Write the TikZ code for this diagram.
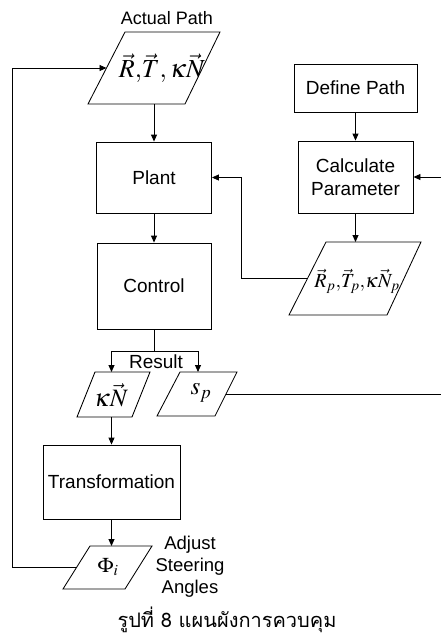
\documentclass[tikz,border=0pt]{standalone}
\usepackage{mathptmx}
\usepackage{fontspec}
\setmainfont{Liberation Sans}
\newfontfamily\thaifont[Script=Thai]{Loma}
\usetikzlibrary{arrows.meta}
\newcommand\lblfont{\fontsize{19}{23}\selectfont}
\begin{document}
\begin{tikzpicture}[x=1pt,y=-1pt,line width=0.85pt,
  >={Triangle[length=7pt,width=6pt]},
  box/.style={draw,rectangle,inner sep=0pt,align=center,font=\lblfont},
  lbl/.style={inner sep=0pt,align=center,font=\lblfont},
  mth/.style={inner sep=0pt,font=\fontsize{#1}{#1}\selectfont},
  para/.style={draw}]
\useasboundingbox (0,0) rectangle (440,641);

% Actual path parallelogram
\node[lbl,font=\fontsize{18}{22}\selectfont] (actual) at (167,18) {Actual Path};
\coordinate (p1a) at (88,104);
\coordinate (p1b) at (125,32);
\coordinate (p1c) at (220,32);
\coordinate (p1d) at (185,104);
\draw[para] (p1a)--(p1b)--(p1c)--(p1d)--cycle;
\node[mth=26] (rtn) at (162,68) {$\vec R{,}\vec T{,}\,\kappa\vec N$};
\coordinate (p1bot) at (154,104);
\coordinate (p1left) at (106.5,68);

% Boxes
\node[box,minimum width=115,minimum height=71] (plant) at (154,177.5) {Plant};
\node[box,minimum width=114,minimum height=86] (control) at (154,286) {Control};
\node[box,minimum width=123,minimum height=48] (define) at (355.5,88) {Define Path};
\node[box,minimum width=115,minimum height=72,font=\fontsize{19}{23}\selectfont] (calc) at (355.5,177) {Calculate\\Parameter};
\node[box,minimum width=137,minimum height=74] (trans) at (111.5,482) {Transformation};

% Param parallelogram
\coordinate (p2a) at (289,315);
\coordinate (p2b) at (326,242);
\coordinate (p2c) at (421,242);
\coordinate (p2d) at (387,315);
\draw[para] (p2a)--(p2b)--(p2c)--(p2d)--cycle;
\node[mth=20] (rtnp) at (357,281) {$\vec R_p{,}\vec T_p{,}\kappa\vec N_p$};
\coordinate (p2top) at (355.5,242);
\coordinate (p2left) at (307.75,278);

% Result
\node[lbl] (result) at (156,362) {Result};
\coordinate (split) at (154,351);

% kN parallelogram
\coordinate (p3a) at (77,417);
\coordinate (p3b) at (95,372);
\coordinate (p3c) at (150,372);
\coordinate (p3d) at (132,417);
\draw[para] (p3a)--(p3b)--(p3c)--(p3d)--cycle;
\node[mth=25] (kn) at (111,395) {$\kappa\vec N$};
\coordinate (p3top) at (111.5,372);
\coordinate (p3bot) at (111.5,417);

% s_p parallelogram
\coordinate (p4a) at (157,416);
\coordinate (p4b) at (180,372);
\coordinate (p4c) at (237,372);
\coordinate (p4d) at (215,416);
\draw[para] (p4a)--(p4b)--(p4c)--(p4d)--cycle;
\node[mth=25] (sp) at (201,393) {$s_p$};
\coordinate (p4top) at (198,372);
\coordinate (p4right) at (226,394);

% Phi parallelogram
\coordinate (p5a) at (63,589);
\coordinate (p5b) at (90,546);
\coordinate (p5c) at (152,546);
\coordinate (p5d) at (125,589);
\draw[para] (p5a)--(p5b)--(p5c)--(p5d)--cycle;
\node[mth=21] (phi) at (108,567) {$\Phi_i$};
\coordinate (p5top) at (111.5,546);
\coordinate (p5left) at (76.8,567);
\node[lbl,font=\fontsize{18.5}{22}\selectfont] (adjust) at (190,567) {Adjust\\Steering\\Angles};

% Caption
\node[inner sep=0pt,font=\thaifont\fontsize{20}{23}\selectfont] (caption) at (227,620) {รูปที่ 8 แผนผังการควบคุม};

% Connectors
\coordinate (j1) at (241,278);
\coordinate (fbx) at (12,567);
\coordinate (rx) at (442,394);
\draw[->] (p1bot) -- (p1bot |- plant.north);
\draw[->] (plant.south) -- (control.north);
\draw[->] (define.south) -- (calc.north);
\draw[->] (calc.south) -- (p2top);
\draw[->] (p2left) -- (j1) |- (plant.east);
\draw (control.south) -- (split);
\draw[->] (split) -| (p3top);
\draw[->] (split) -| (p4top);
\draw[->] (p3bot) -- (trans.north);
\draw[->] (trans.south) -- (p5top);
\draw[->] (p5left) -- (fbx) |- (p1left);
\draw[->] (p4right) -- (rx) |- (calc.east);
\end{tikzpicture}
\end{document}
